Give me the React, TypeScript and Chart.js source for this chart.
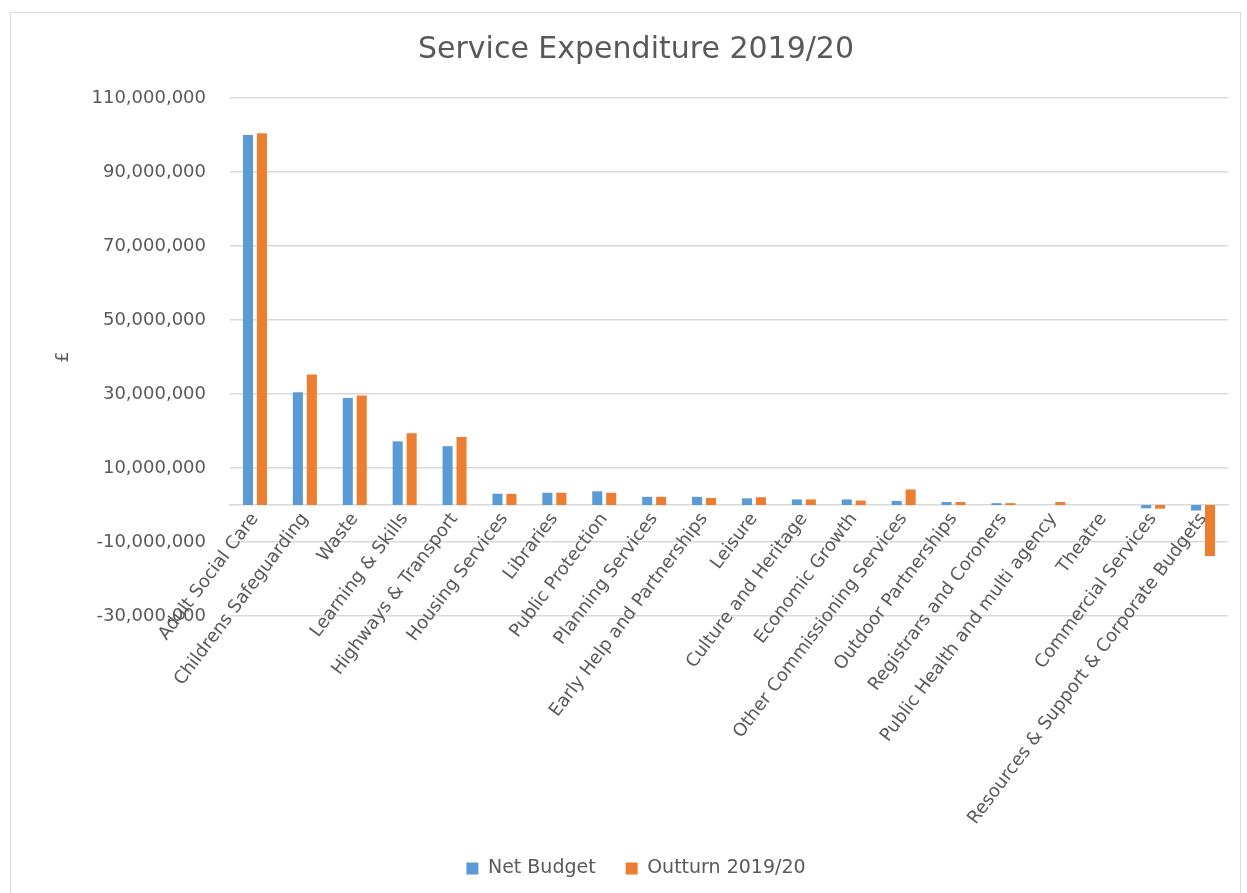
import React, { useEffect, useRef } from "react";
import { Chart, registerables } from "chart.js";

Chart.register(...registerables);

const categories = [
  "Adult Social Care",
  "Childrens Safeguarding",
  "Waste",
  "Learning & Skills",
  "Highways & Transport",
  "Housing Services",
  "Libraries",
  "Public Protection",
  "Planning Services",
  "Early Help and Partnerships",
  "Leisure",
  "Culture and Heritage",
  "Economic Growth",
  "Other Commissioning Services",
  "Outdoor Partnerships",
  "Registrars and Coroners",
  "Public Health and multi agency",
  "Theatre",
  "Commercial Services",
  "Resources & Support & Corporate Budgets",
];

const netBudget = [
  100000000, 30500000, 28900000, 17200000, 15900000, 3050000, 3300000, 3700000,
  2200000, 2200000, 1800000, 1500000, 1500000, 1100000, 800000, 500000, 0, 0,
  -900000, -1500000,
];

const outturn = [
  100500000, 35300000, 29600000, 19400000, 18400000, 3000000, 3300000, 3300000,
  2200000, 1900000, 2100000, 1500000, 1200000, 4200000, 800000, 500000, 800000, 0,
  -1000000, -13800000,
];

const seriesNames = ["Net Budget", "Outturn 2019/20"];
const seriesColors = ["#5b9bd5", "#ed7d31"];
const yMin = -30000000;
const yMax = 110000000;
const yStep = 20000000;

const TEXT = "#595959";
const GRID = "#d9d9d9";
const FONT = "'DejaVu Sans', sans-serif";

export default function App() {
  const ref = useRef<HTMLCanvasElement | null>(null);

  useEffect(() => {
    if (!ref.current) return;
    const chart = new Chart(ref.current, {
      type: "bar",
      data: {
        labels: categories,
        datasets: [
          {
            label: seriesNames[0],
            data: netBudget,
            backgroundColor: seriesColors[0],
            categoryPercentage: 0.56,
            barPercentage: 0.72,
          },
          {
            label: seriesNames[1],
            data: outturn,
            backgroundColor: seriesColors[1],
            categoryPercentage: 0.56,
            barPercentage: 0.72,
          },
        ],
      },
      options: {
        animation: false,
        responsive: true,
        maintainAspectRatio: false,
        layout: { padding: { left: 33, right: 12, top: 0, bottom: 5 } },
        plugins: {
          title: {
            display: true,
            text: "Service Expenditure 2019/20",
            color: TEXT,
            font: { family: FONT, size: 30, weight: "normal" },
            padding: { top: 19, bottom: 30 },
          },
          legend: {
            display: true,
            position: "bottom",
            title: {
              display: true,
              text: "",
              font: { family: FONT, size: 12 },
              padding: { top: 0, bottom: 198.6 },
            },
            labels: {
              color: TEXT,
              font: { family: FONT, size: 19 },
              boxWidth: 12,
              boxHeight: 12,
              padding: 30,
            },
          },
          tooltip: { enabled: false },
        },
        scales: {
          x: {
            position: { y: 0 } as any,
            grid: { display: false, drawTicks: false },
            border: { display: true, color: GRID, width: 1.5 },
            ticks: {
              color: TEXT,
              font: { family: FONT, size: 18 },
              minRotation: 53,
              maxRotation: 53,
              autoSkip: false,
              padding: 4,
            },
          },
          y: {
            min: yMin,
            max: yMax,
            grid: { color: GRID, lineWidth: 1.5, drawTicks: false },
            border: { display: false },
            ticks: {
              stepSize: yStep,
              color: TEXT,
              font: { family: FONT, size: 18 },
              padding: 24,
              callback: (v: any) => Number(v).toLocaleString("en-US"),
            },
            title: {
              display: true,
              text: "£",
              color: TEXT,
              font: { family: FONT, size: 18 },
              padding: { top: 8.2, bottom: -6.3 },
            },
          },
        },
      },
    });
    return () => chart.destroy();
  }, []);

  return (
    <div
      style={{
        position: "fixed",
        left: 10,
        top: 12,
        width: 1231,
        height: 882,
        boxSizing: "border-box",
        border: "1px solid #d9d9d9",
        background: "#fff",
      }}
    >
      <canvas ref={ref} />
    </div>
  );
}
